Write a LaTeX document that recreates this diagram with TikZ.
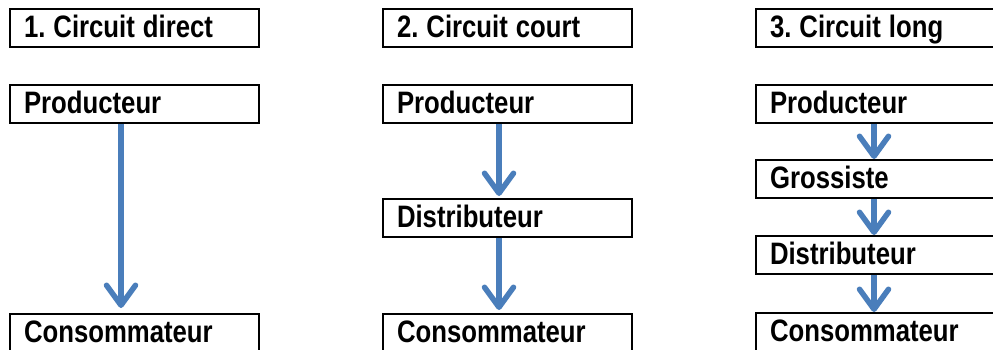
\documentclass[tikz,border=0pt]{standalone}
\usepackage{fontspec}
\usetikzlibrary{arrows.meta}
\newfontfamily\lab[FakeStretch=0.83]{Liberation Sans Bold}
\newcommand\stagefont{\lab\fontsize{31}{36}\selectfont}
% word gap for the condensed headings
\newcommand\wgap{\hspace{8pt}}
\definecolor{flow}{RGB}{74,126,187}
\begin{document}
\begin{tikzpicture}[x=1pt,y=-1pt,
  stagebox/.style={draw=black,line width=2pt,anchor=north west,
    minimum width=249pt,minimum height=38pt,text width=221pt,
    inner xsep=14pt,inner ysep=0pt,align=left,
    text height=23pt,text depth=5pt,font=\stagefont},
  flowarrow/.style={draw=flow,line width=5.5pt,
    -{Straight Barb[length=20pt,width=29pt,round]}}]
\useasboundingbox (0,0) rectangle (993,349);
\clip (0,0) rectangle (993,349);

% column 1: direct
\node[stagebox] (t1) at (9,8) {1.\wgap Circuit\wgap direct};
\node[stagebox] (p1) at (9,84) {Producteur};
\node[stagebox] (c1) at (9,313) {Consommateur};
\draw[flowarrow,shorten >=5pt] ([xshift=-13.5pt]p1.south) -- ([xshift=-13.5pt]c1.north);

% column 2: short
\node[stagebox] (t2) at (382,8) {2.\wgap Circuit\wgap court};
\node[stagebox] (p2) at (382,84) {Producteur};
\node[stagebox] (d2) at (382,198) {Distributeur};
\node[stagebox] (c2) at (382,313) {Consommateur};
\draw[flowarrow,shorten >=2pt] ([xshift=-8.5pt]p2.south) -- ([xshift=-8.5pt]d2.north);
\draw[flowarrow,shorten >=3pt] ([xshift=-8.5pt]d2.south) -- ([xshift=-8.5pt]c2.north);

% column 3: long
\node[stagebox] (t3) at (755,8) {3.\wgap Circuit\wgap long};
\node[stagebox] (p3) at (755,84) {Producteur};
\node[stagebox] (g3) at (755,159) {Grossiste};
\node[stagebox] (d3) at (755,235) {Distributeur};
\node[stagebox] (c3) at (755,312) {Consommateur};
\draw[flowarrow] ([xshift=-6.5pt]p3.south) -- ([xshift=-6.5pt]g3.north);
\draw[flowarrow] ([xshift=-6.5pt]g3.south) -- ([xshift=-6.5pt]d3.north);
\draw[flowarrow] ([xshift=-6.5pt]d3.south) -- ([xshift=-6.5pt]c3.north);
\end{tikzpicture}
\end{document}
